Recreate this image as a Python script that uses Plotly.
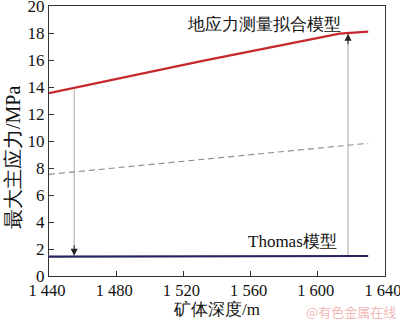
import plotly.graph_objects as go

# Depth (m) and maximum principal stress (MPa) for each model
depth_fit = [1440, 1530, 1613, 1630]
stress_fit = [13.55, 15.9, 17.95, 18.1]

depth_mid = [1440, 1618, 1630]
stress_mid = [7.53, 9.68, 9.83]

depth_thomas = [1440, 1630]
stress_thomas = [1.43, 1.48]

# Arrows between the two models: (depth, from stress, to stress)
arrow_down = (1455, 13.8, 1.5)
arrow_up = (1618, 1.5, 17.95)

x_ticks = [1440, 1480, 1520, 1560, 1600, 1640]
x_tick_text = ["1 440", "1 480", "1 520", "1 560", "1 600", "1 640"]
y_ticks = [0, 2, 4, 6, 8, 10, 12, 14, 16, 18, 20]

serif = "Liberation Serif"

fig = go.Figure()

# gray connector lines for the arrows
for d, y0, y1 in (arrow_down, arrow_up):
    fig.add_trace(go.Scatter(x=[d, d], y=[y0, y1], mode="lines",
                             line=dict(color="#a8a8a8", width=1),
                             hoverinfo="skip", showlegend=False))

fig.add_trace(go.Scatter(x=depth_mid, y=stress_mid, mode="lines",
                         line=dict(color="#8a8a8a", width=1.1, dash="6px,4px"),
                         showlegend=False))
fig.add_trace(go.Scatter(x=depth_fit, y=stress_fit, mode="lines",
                         line=dict(color="#c8282d", width=2.2),
                         showlegend=False))
fig.add_trace(go.Scatter(x=depth_thomas, y=stress_thomas, mode="lines",
                         line=dict(color="#24245e", width=2.2),
                         showlegend=False))

# arrow heads
for d, y0, y1 in (arrow_down, arrow_up):
    step = 0.9 if y1 > y0 else -0.9
    fig.add_annotation(x=d, y=y1, ax=d, ay=y1 - step, xref="x", yref="y",
                       axref="x", ayref="y", showarrow=True, arrowhead=2,
                       arrowsize=1.4, arrowwidth=1, arrowcolor="#222222", text="")

fig.add_annotation(x=1568, y=18.65, text="地应力测量拟合模型", showarrow=False,
                   font=dict(family=serif, size=17, color="#111111"))
fig.add_annotation(x=1585, y=2.55, text="Thomas模型", showarrow=False,
                   font=dict(family=serif, size=17, color="#111111"))

# y-axis title, placed slightly below the plot's vertical centre
fig.add_annotation(x=0, y=0.437, xref="paper", yref="paper", xshift=-36,
                   text="最大主应力/MPa", textangle=-90, showarrow=False,
                   xanchor="center", yanchor="middle",
                   font=dict(family=serif, size=20, color="#111111"))

fig.add_annotation(x=1.0, y=0, xref="paper", yref="paper", yshift=-35, xshift=13,
                   xanchor="right", yanchor="middle", text="@有色金属在线",
                   showarrow=False,
                   font=dict(family="Noto Sans CJK SC", size=13, color="#f2b8b8"))

axis_common = dict(showline=True, linecolor="#333333", linewidth=1, mirror=True,
                   ticks="inside", ticklen=5, tickcolor="#333333",
                   showgrid=False, zeroline=False, ticklabeloverflow="allow",
                   automargin=False)

fig.update_xaxes(range=[1440, 1640], tickvals=x_ticks, ticktext=x_tick_text,
                 ticklabelstandoff=-1, ticklabelshift=-2,
                 tickfont=dict(family=serif, size=16.5, color="#111111"),
                 title=dict(text="矿体深度/m", standoff=4,
                            font=dict(family=serif, size=17, color="#111111")),
                 **axis_common)
fig.update_yaxes(range=[0, 20], tickvals=y_ticks,
                 tickfont=dict(family=serif, size=17, color="#111111"),
                 **axis_common)

fig.update_layout(width=400, height=323, margin=dict(l=49, r=15, t=6, b=47),
                  paper_bgcolor="white", plot_bgcolor="white")

fig.write_html("out.html")
